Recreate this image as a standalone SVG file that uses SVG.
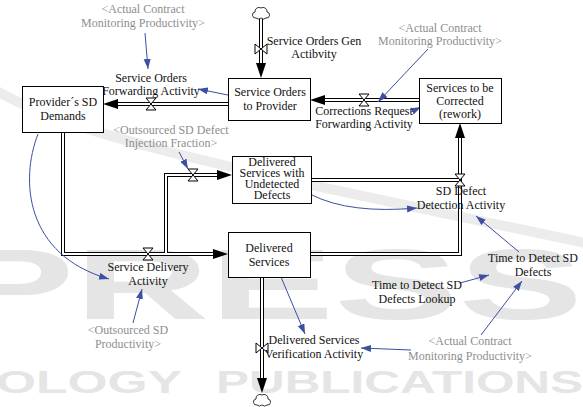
<svg xmlns="http://www.w3.org/2000/svg" width="583" height="407" viewBox="0 0 583 407">
<defs>
<style>
.t{font-family:"Liberation Serif","Times New Roman",serif;font-size:12px;text-anchor:middle;fill:#111}
.g{fill:#8e8e8e}
.box{fill:#fff;stroke:#000;stroke-width:1}
.pb{fill:none;stroke:#000;stroke-width:4}
.pw{fill:none;stroke:#fff;stroke-width:2}
.ah{fill:#000}
.valve{fill:#fff;stroke:#000;stroke-width:1}
.cloud{fill:#fff;stroke:#000;stroke-width:0.8}
.link{fill:none;stroke:#3c4fa0;stroke-width:1;marker-end:url(#arr)}
.wm{font-family:"Liberation Sans",Arial,sans-serif;font-weight:bold;fill:#e5e5e5}
</style>
<marker id="arr" markerUnits="userSpaceOnUse" markerWidth="11" markerHeight="8" refX="10" refY="3.5" orient="auto">
<path d="M0,0 L10,3.5 L0,7 Z" fill="#3c4fa0"/>
</marker>
</defs>
<rect width="583" height="407" fill="#fff"/>
<g id="watermark">
<path d="M-5,90 C80,140 250,172 590,244" fill="none" stroke="#ececec" stroke-width="10"/>
<text class="wm" x="-50" y="319" font-size="101" textLength="633" lengthAdjust="spacingAndGlyphs">PRESS</text>
<text class="wm" x="-4" y="393" font-size="32" textLength="186" lengthAdjust="spacingAndGlyphs">OLOGY</text>
<text class="wm" x="216" y="393" font-size="32" textLength="367" lengthAdjust="spacingAndGlyphs">PUBLICATIONS</text>
</g>
<g id="connectors">
<path class="pb" d="M261,19 V64 M228,104 H117 M419,100 H324 M63,133 V254 H214 M166,254 V175 H218 M311,180 H460 M310,254 H460 V137 M262,277 V379"/>
<path class="pw" d="M261,19 V64 M228,104 H117 M419,100 H324 M63,133 V254 H214 M166,254 V175 H218 M311,180 H460 M310,254 H460 V137 M262,277 V379"/>
<polygon class="ah" points="256,63 266,63 261,78"/>
<polygon class="ah" points="118,99 118,109 103,104"/>
<polygon class="ah" points="325,95 325,105 310,100"/>
<polygon class="ah" points="213,249 213,259 228,254"/>
<polygon class="ah" points="217,170 217,180 232,175"/>
<polygon class="ah" points="455,138 465,138 460,123"/>
<polygon class="ah" points="257,378 267,378 262,393"/>
<path class="valve" d="M255,44 V54 L267,44 V54 Z"/>
<path class="valve" d="M256,343 V353 L268,343 V353 Z"/>
<path class="valve" d="M146,98 H156 L146,110 H156 Z"/>
<path class="valve" d="M359,94 H369 L359,106 H369 Z"/>
<path class="valve" d="M143,248 H153 L143,260 H153 Z"/>
<path class="valve" d="M188,169 H198 L188,181 H198 Z"/>
<path class="valve" d="M455,174 H465 L455,186 H465 Z"/>
<path class="cloud" d="M256,18 a3,3 0 0 1 -1,-6 a4,4 0 0 1 6,-4 a4,4 0 0 1 6,4 a3,3 0 0 1 -1,6 a3.5,3 0 0 1 -5,0 a3.5,3 0 0 1 -5,0 Z"/>
<path class="cloud" d="M257,405 a3,3 0 0 1 -1,-6 a4,4 0 0 1 6,-4 a4,4 0 0 1 6,4 a3,3 0 0 1 -1,6 a3.5,3 0 0 1 -5,0 a3.5,3 0 0 1 -5,0 Z"/>
<path class="link" d="M145,33 L148,69"/>
<path class="link" d="M228,95 L198,89"/>
<path class="link" d="M428,49 L378,102"/>
<path class="link" d="M411,112 L421,107"/>
<path class="link" d="M179,152 L188,169"/>
<path class="link" d="M38,134 C20,180 25,255 109,279"/>
<path class="link" d="M312,195 Q350,214 417,208"/>
<path class="link" d="M519,252 L476,216"/>
<path class="link" d="M133,323 L142,289"/>
<path class="link" d="M281,277 L305,334"/>
<path class="link" d="M460,283 L489,275"/>
<path class="link" d="M481,335 L522,281"/>
<path class="link" d="M411,350 L361,348"/>
</g>
<g id="provider-sd-demands">
<rect class="box" x="22.5" y="86.5" width="81" height="46"/>
<text class="t" x="63" y="106">Provider´s SD</text>
<text class="t" x="63" y="120">Demands</text>
</g>
<g id="service-orders-to-provider">
<rect class="box" x="228.5" y="78.5" width="82" height="42"/>
<text class="t" x="270" y="96">Service Orders</text>
<text class="t" x="270" y="110">to Provider</text>
</g>
<g id="services-to-be-corrected">
<rect class="box" x="419.5" y="78.5" width="82" height="45"/>
<text class="t" x="460" y="92">Services to be</text>
<text class="t" x="460" y="105">Corrected</text>
<text class="t" x="460" y="118">(rework)</text>
</g>
<g id="delivered-services-undetected">
<rect class="box" x="232.5" y="156.5" width="79" height="47"/>
<text class="t" x="272" y="166">Delivered</text>
<text class="t" x="272" y="177">Services with</text>
<text class="t" x="272" y="188">Undetected</text>
<text class="t" x="272" y="199">Defects</text>
</g>
<g id="delivered-services">
<rect class="box" x="228.5" y="232.5" width="82" height="45"/>
<text class="t" x="269" y="252">Delivered</text>
<text class="t" x="269" y="266">Services</text>
</g>
<g id="service-orders-gen-activity">
<text class="t" x="314" y="45">Service Orders Gen</text>
<text class="t" x="314" y="58">Actibvity</text>
</g>
<g id="service-orders-forwarding-activity">
<text class="t" x="151" y="82">Service Orders</text>
<text class="t" x="151" y="95">Forwarding Activity</text>
</g>
<g id="corrections-request-forwarding-activity">
<text class="t" x="364" y="115">Corrections Request</text>
<text class="t" x="364" y="128">Forwarding Activity</text>
</g>
<g id="service-delivery-activity">
<text class="t" x="148" y="271">Service Delivery</text>
<text class="t" x="148" y="285">Activity</text>
</g>
<g id="sd-defect-detection-activity">
<text class="t" x="461" y="195">SD Defect</text>
<text class="t" x="461" y="209">Detection Activity</text>
</g>
<g id="time-to-detect-sd-defects">
<text class="t" x="533" y="262">Time to Detect SD</text>
<text class="t" x="533" y="276">Defects</text>
</g>
<g id="time-to-detect-sd-defects-lookup">
<text class="t" x="417" y="289">Time to Detect SD</text>
<text class="t" x="417" y="303">Defects Lookup</text>
</g>
<g id="delivered-services-verification-activity">
<text class="t" x="314" y="344">Delivered Services</text>
<text class="t" x="314" y="358">Verification Activity</text>
</g>
<g id="actual-contract-monitoring-productivity-1">
<text class="t g" x="143" y="13">&lt;Actual Contract</text>
<text class="t g" x="143" y="27">Monitoring Productivity&gt;</text>
</g>
<g id="actual-contract-monitoring-productivity-2">
<text class="t g" x="440" y="32">&lt;Actual Contract</text>
<text class="t g" x="440" y="45">Monitoring Productivity&gt;</text>
</g>
<g id="outsourced-sd-defect-injection-fraction">
<text class="t g" x="171" y="134">&lt;Outsourced SD Defect</text>
<text class="t g" x="171" y="147">Injection Fraction&gt;</text>
</g>
<g id="outsourced-sd-productivity">
<text class="t g" x="128" y="334">&lt;Outsourced SD</text>
<text class="t g" x="128" y="348">Productivity&gt;</text>
</g>
<g id="actual-contract-monitoring-productivity-3">
<text class="t g" x="470" y="345">&lt;Actual Contract</text>
<text class="t g" x="470" y="360">Monitoring Productivity&gt;</text>
</g>
</svg>
